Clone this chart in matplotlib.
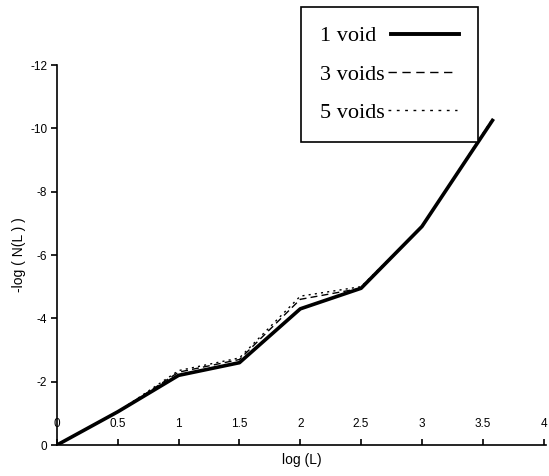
import numpy as np
import matplotlib
matplotlib.use('Agg')
import matplotlib.pyplot as plt
from matplotlib.lines import Line2D

plt.rcParams['axes.unicode_minus'] = False
plt.rcParams['font.family'] = ['Liberation Sans', 'DejaVu Sans']

# data
log_L = [0, 0.5, 1, 1.5, 2, 2.5, 3, 3.58]
void1 = [0, -1.05, -2.2, -2.6, -4.3, -4.95, -6.9, -10.25]
void3 = [0, -1.05, -2.3, -2.7, -4.6, -4.95, -6.9, -10.25]
void5 = [0, -1.05, -2.35, -2.75, -4.7, -5.0, -6.9, -10.3]
labels = ['1 void', '3 voids', '5 voids']

xticks = [0, 0.5, 1, 1.5, 2, 2.5, 3, 3.5, 4]
xtick_labels = ['0', '0.5', '1', '1.5', '2', '2.5', '3', '3.5', '4']
yticks = [0, -2, -4, -6, -8, -10, -12]

fig = plt.figure(figsize=(5.49, 4.76), dpi=100)
ax = fig.add_axes([57 / 549, 31 / 476, 489 / 549, 380 / 476])

ax.plot(log_L, void3, color='black', lw=1.0, ls=(0, (5, 3)))
ax.plot(log_L, void5, color='black', lw=1.0, ls=(0, (1.5, 3)))
ax.plot(log_L, void1, color='black', lw=2.6)

ax.set_xlim(0, 4.02)
ax.set_ylim(0, -12)
ax.set_xticks(xticks)
ax.set_xticklabels(xtick_labels)
ax.set_yticks(yticks)

for s in ['top', 'right']:
    ax.spines[s].set_visible(False)
for s in ['left', 'bottom']:
    ax.spines[s].set_linewidth(1.2)

ax.tick_params(axis='x', direction='in', length=4, width=1.2, pad=-19.5, labelsize=8.5)
ax.tick_params(axis='y', direction='out', length=4, width=1.2, pad=3, labelsize=8.5)

ax.set_xlabel('log (L)', fontsize=10, labelpad=6)
ax.set_ylabel('-log ( N(L ) )', fontsize=10, labelpad=3)

# legend: text on the left, line sample on the right
h1 = Line2D([], [], color='black', lw=2.8)
h3 = Line2D([], [], color='black', lw=1.0, ls=(0, (6, 4)))
h5 = Line2D([], [], color='black', lw=1.0, ls=(0, (2, 4)))
leg = ax.legend([h1, h3, h5], labels, loc='upper left',
                bbox_to_anchor=(301 / 549, 1 - 7 / 476), bbox_transform=fig.transFigure,
                borderaxespad=0, markerfirst=False, fancybox=False, frameon=True,
                edgecolor='black', framealpha=1,
                prop={'family': 'Liberation Serif', 'size': 16},
                handlelength=3.1, handletextpad=0.15, labelspacing=0.8, borderpad=0.85)
leg.get_frame().set_linewidth(1.2)
for col in leg._legend_handle_box.get_children():
    col.align = 'left'
    for row in col.get_children():
        kids = row.get_children()
        if kids[0].get_children()[0].get_text() == '1 void':
            row.sep = row.sep + 8
fig.savefig('out.png', dpi=100)
